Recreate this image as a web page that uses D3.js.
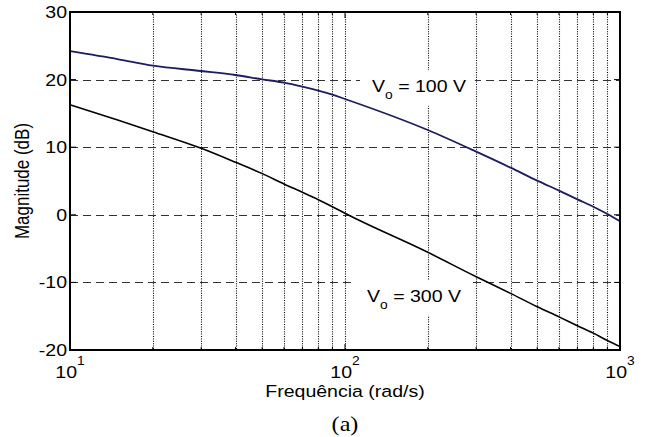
<!DOCTYPE html>
<html>
<head>
<meta charset="utf-8">
<script src="https://cdn.jsdelivr.net/npm/d3@7"></script>
<style>
  html, body { margin: 0; padding: 0; background: #fff; }
  svg { display: block; }
  text { font-family: "Liberation Sans", Arial, sans-serif; fill: #000; }
</style>
</head>
<body>
<svg id="chart" width="645" height="437"></svg>
<script>
// ---- data ----
const freq    = [10, 15, 20, 30, 40, 50, 60, 70, 80, 90, 100, 200, 300, 400, 500, 600, 700, 800, 900, 1000];
const mag100  = [24.2, 23.0, 22.06, 21.27, 20.68, 20.04, 19.55, 18.95, 18.36, 17.77, 17.13, 12.54, 9.34, 6.97, 5.05, 3.57, 2.29, 1.2, 0.12, -0.96];
const mag300  = [16.29, 14.0, 12.3, 9.84, 7.77, 6.09, 4.56, 3.33, 2.24, 1.2, 0.22, -5.55, -9.16, -11.62, -13.6, -15.1, -16.4, -17.5, -18.6, -19.5];
const yTicks  = [-20, -10, 0, 10, 20, 30];
const xMajor  = [10, 100, 1000];
const xMajorExp = ["1", "2", "3"];
const xMinor  = [20, 30, 40, 50, 60, 70, 80, 90, 200, 300, 400, 500, 600, 700, 800, 900];
const label100 = ["V", "o", " = 100 V"];
const label300 = ["V", "o", " = 300 V"];
const xTitle = "Frequência (rad/s)";
const yTitle = "Magnitude (dB)";
const caption = "(a)";

// ---- layout ----
const L = 70, R = 620, T = 12, B = 350;
const SX = 1.15; // horizontal text stretch seen in the reference
const svg = d3.select("#chart");

const x = d3.scaleLog().domain([10, 1000]).range([L, R]);
const y = d3.scaleLinear().domain([-20, 30]).range([B, T]);

const gridG = svg.append("g");
const bgG = svg.append("g");
const curveG = svg.append("g");
const textG = svg.append("g");

// grid: vertical dotted at all log ticks inside
const gridV = xMinor.concat([100]);
gridG.append("g").selectAll("line").data(gridV).join("line")
  .attr("x1", d => Math.round(x(d)) + 0.5).attr("x2", d => Math.round(x(d)) + 0.5)
  .attr("y1", T).attr("y2", B)
  .attr("stroke", "#000").attr("stroke-width", 1.1)
  .attr("stroke-dasharray", "1,1.4");

// grid: horizontal dashed
gridG.append("g").selectAll("line").data(yTicks.filter(v => v > -20 && v < 30)).join("line")
  .attr("x1", L).attr("x2", R)
  .attr("y1", d => Math.round(y(d)) + 0.5).attr("y2", d => Math.round(y(d)) + 0.5)
  .attr("stroke", "#333").attr("stroke-width", 1)
  .attr("stroke-dasharray", "8,5");

// ticks (inward)
const tickG = gridG.append("g").attr("stroke", "#000").attr("stroke-width", 1);
yTicks.forEach(v => {
  tickG.append("line").attr("x1", L).attr("x2", L + 6).attr("y1", y(v)).attr("y2", y(v));
  tickG.append("line").attr("x1", R - 6).attr("x2", R).attr("y1", y(v)).attr("y2", y(v));
});
xMajor.concat(xMinor).forEach(f => {
  const len = xMajor.includes(f) ? 6 : 3;
  tickG.append("line").attr("x1", x(f)).attr("x2", x(f)).attr("y1", B).attr("y2", B - len);
  tickG.append("line").attr("x1", x(f)).attr("x2", x(f)).attr("y1", T).attr("y2", T + len);
});

// stretched text helper
function sText(parent, px, py, anchor, size, family) {
  const g = parent.append("g").attr("transform", `translate(${px},${py}) scale(${SX},1)`);
  const t = g.append("text").attr("text-anchor", anchor).attr("font-size", size);
  if (family) t.style("font-family", family);
  return t;
}

// curve labels with white background (background under curves, text on top)
function curveLabel(parts, px, py) {
  const bg = bgG.append("rect").attr("fill", "#fff");
  const t = sText(textG, px, py, "start", 17);
  t.append("tspan").text(parts[0]);
  t.append("tspan").attr("font-size", 12).attr("dy", 7).text(parts[1]);
  t.append("tspan").attr("dy", -7).text(parts[2]);
  const bb = t.node().getBBox();
  bg.attr("x", px + bb.x * SX - 12).attr("y", py + bb.y - 6)
    .attr("width", bb.width * SX + 20).attr("height", bb.height + 10);
}
curveLabel(label100, 372, 92);
curveLabel(label300, 367, 302);

// curves
const line = d3.line().x((d, i) => x(freq[i])).y(d => y(d)).curve(d3.curveMonotoneX);
curveG.append("path").datum(mag300).attr("d", line)
  .attr("fill", "none").attr("stroke", "#000").attr("stroke-width", 1.6);
curveG.append("path").datum(mag100).attr("d", line)
  .attr("fill", "none").attr("stroke", "#1c1c5e").attr("stroke-width", 1.8);

// axes box
textG.append("rect").attr("x", L).attr("y", T).attr("width", R - L).attr("height", B - T)
  .attr("fill", "none").attr("stroke", "#000").attr("stroke-width", 2);

// y tick labels
yTicks.forEach(v => {
  sText(textG, 67, y(v) + 6, "end", 17).text(String(v));
});

// x tick labels 10^n
xMajor.forEach((f, i) => {
  const t = sText(textG, x(f), 378, "middle", 17);
  t.append("tspan").text("10");
  t.append("tspan").attr("font-size", 12).attr("dy", -13).text(xMajorExp[i]);
});

// axis titles
sText(textG, (L + R) / 2, 397, "middle", 17).text(xTitle);
textG.append("g").attr("transform", `translate(29,${(T + B) / 2}) scale(${SX},1) rotate(-90)`)
  .append("text").attr("text-anchor", "middle").attr("font-size", 17).text(yTitle);

// caption
sText(textG, (L + R) / 2, 431, "middle", 21, "'Liberation Serif', 'Times New Roman', serif").text(caption);
</script>
</body>
</html>
